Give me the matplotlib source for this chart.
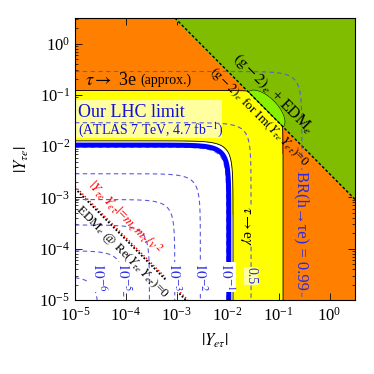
import numpy as np
import matplotlib
matplotlib.use("Agg")
import matplotlib.pyplot as plt
from matplotlib.patches import Rectangle

plt.rcParams['font.family'] = ['Liberation Serif', 'DejaVu Serif']
plt.rcParams['mathtext.fontset'] = 'stix'

# ---- values ----
# BR(h -> tau e) contour levels and the |Y| radius where each one runs
br_labels = [r'$10^{-6}$', r'$10^{-5}$', r'$10^{-4}$', r'$10^{-3}$',
             r'$10^{-2}$', r'$10^{-1}$', '0.5', 'BR(h\u2192\u03c4e) = 0.99']
br_radius = [2.9e-5, 9.1e-5, 2.9e-4, 9.1e-4, 2.9e-3, 9.6e-3, 2.87e-2, 0.286]
br_show = [True, True, False, True, True, True, True, True]

r_lhc = 0.0105        # our LHC limit (thick blue)
r_teg = 0.0127        # tau -> e gamma bound (white/yellow edge)
r_t3e = 0.122         # tau -> 3e bound (yellow/orange edge)
p_g2 = 2.9e-3         # (g-2)_e + EDM_e : |Y_te Y_et| above this is excluded
p_edm = 1.5e-8        # EDM_e for Re(Y Y)=0
p_mass = 1.65e-8      # |Y Y| = m_e m_tau / v^2
lime_c = (-1.257, -1.287)   # log10 centre of Im != 0 patch
lime_ab = (0.485, 0.235)    # half sizes along / across the line (decades)

orange = '#FF8000'
yellow = '#FFFF00'
green = '#80BC00'
lime = '#86F000'
dblue = '#5a5ae0'

x = np.logspace(-5, 0.5, 700)
X, Y = np.meshgrid(x, x)
R = np.hypot(X, Y)
P = X * Y
u = ((np.log10(X) - lime_c[0]) - (np.log10(Y) - lime_c[1])) / np.sqrt(2)
v = ((np.log10(X) - lime_c[0]) + (np.log10(Y) - lime_c[1])) / np.sqrt(2)
E = np.where(P > p_g2, (u / lime_ab[0])**2 + (v / lime_ab[1])**2, 9.0)

fig = plt.figure(figsize=(3.74, 3.74), dpi=100)
ax = fig.add_axes([75/374, 74/374, 280/374, 282/374])
ax.set_xscale('log')
ax.set_yscale('log')

ax.contourf(X, Y, R, levels=[r_teg, r_t3e, 100], colors=[yellow, orange], zorder=1)
ax.contour(X, Y, R, levels=[r_teg, r_t3e], colors='k', linewidths=0.6, zorder=2)
ax.add_patch(Rectangle((0, 0.574), 0.525, 0.135, transform=ax.transAxes,
                       facecolor='#FFFFA0', edgecolor='none', zorder=2))
ax.contourf(X, Y, P, levels=[p_g2, 100], colors=[green], zorder=3)
ax.contourf(X, Y, E, levels=[0, 1], colors=[lime], zorder=3)
ax.contour(X, Y, E, levels=[1], colors='k', linewidths=0.4, zorder=3)
ax.contour(X, Y, P, levels=[p_g2], colors='k', linewidths=1.0,
           linestyles=[(0, (2, 1.5))], zorder=4)
ax.contour(X, Y, P, levels=[p_edm], colors='k', linewidths=1.3,
           linestyles=[(0, (1, 1))], zorder=4)
ax.contour(X, Y, P, levels=[p_mass], colors='r', linewidths=1.0,
           linestyles=[(0, (1, 1.5))], zorder=4)

ax.contour(X, Y, R, levels=br_radius, colors=dblue, linewidths=0.8,
           linestyles=[(0, (4, 3))], zorder=5)
ax.contour(X, Y, R, levels=[r_lhc], colors='#0000FF', linewidths=3.6, zorder=6)

# contour labels along the bottom
for lab, rr, show in zip(br_labels[:6], br_radius[:6], br_show[:6]):
    if show:
        ax.text(rr, 10**-4.55, lab, color='#2a2ae8', fontsize=11, rotation=-90,
                ha='center', va='center', zorder=7,
                bbox=dict(facecolor='white', edgecolor='none', pad=0.3))
ax.text(br_radius[6], 10**-4.53, br_labels[6], color='#2a2ae8', fontsize=10,
        rotation=-90, ha='center', va='center', zorder=7,
        bbox=dict(facecolor='#FFFFA0', edgecolor='none', pad=0.3))
ax.text(br_radius[7], 10**-3.64, br_labels[7], color='#2a2ae8', fontsize=12,
        rotation=-90, ha='center', va='center', zorder=7,
        bbox=dict(facecolor=orange, edgecolor='none', pad=0.3))

ax.text(10**-1.66, 10**-3.55, r'$\tau\rightarrow$e$\gamma$', fontsize=11,
        rotation=-90, ha='center', va='center', zorder=7,
        bbox=dict(facecolor=yellow, edgecolor='none', pad=0.3))
ax.text(10**-4.80, 10**-0.72, r'$\tau\rightarrow$ 3e', fontsize=13,
        ha='left', va='center', zorder=7)
ax.text(10**-3.72, 10**-0.72, '(approx.)', fontsize=10,
        ha='left', va='center', zorder=7)
ax.text(10**-4.94, 10**-1.34, 'Our LHC limit', fontsize=13, color='#1010E0',
        ha='left', va='center', zorder=7)
ax.text(10**-4.94, 10**-1.67, r'(ATLAS 7 TeV, 4.7 fb$^{-1}$)', fontsize=10,
        color='#1010E0', ha='left', va='center', zorder=7)
ax.text(10**-1.10, 10**-0.98, r'$(\mathrm{g}-2)_e$ + EDM$_e$', fontsize=11.5,
        rotation=-45, rotation_mode='anchor', ha='center', va='center', zorder=7)
ax.text(10**-1.38, 10**-1.43, r'$(\mathrm{g}-2)_e$ for Im$(Y_{\tau e}\,Y_{e\tau})$=0',
        fontsize=9.5, rotation=-45, rotation_mode='anchor', ha='center',
        va='center', zorder=7)
ax.text(10**-4.08, 10**-4.06, r'EDM$_e$ @ Re$(Y_{\tau e}\,Y_{e\tau})$=0',
        fontsize=9.5, rotation=-45, rotation_mode='anchor', ha='center',
        va='center', zorder=7)
ax.text(10**-4.02, 10**-3.40, r'$|Y_{\tau e}\,Y_{e\tau}|$=$m_e\,m_\tau/v^{\,2}$',
        fontsize=10, color='r', rotation=-45, rotation_mode='anchor',
        ha='center', va='center', zorder=7)

ax.set_xlim(1e-5, 10**0.5)
ax.set_ylim(1e-5, 10**0.5)
ax.set_xticks([1e-5, 1e-4, 1e-3, 1e-2, 1e-1, 1e0])
ax.set_yticks([1e-5, 1e-4, 1e-3, 1e-2, 1e-1, 1e0])
ax.tick_params(which='both', direction='in', top=True, right=True, labelsize=12)
ax.tick_params(which='major', length=5, width=0.6)
ax.tick_params(which='minor', length=2.5, width=0.5)
ax.tick_params(axis='x', pad=5)
ax.set_xlabel(r'$|Y_{e\tau}|$', fontsize=12, labelpad=5)
ax.set_ylabel(r'$|Y_{\tau e}|$', fontsize=12, labelpad=6)
for s in ax.spines.values():
    s.set_linewidth(0.8)
    s.set_zorder(10)

fig.savefig('out.png', dpi=100)
